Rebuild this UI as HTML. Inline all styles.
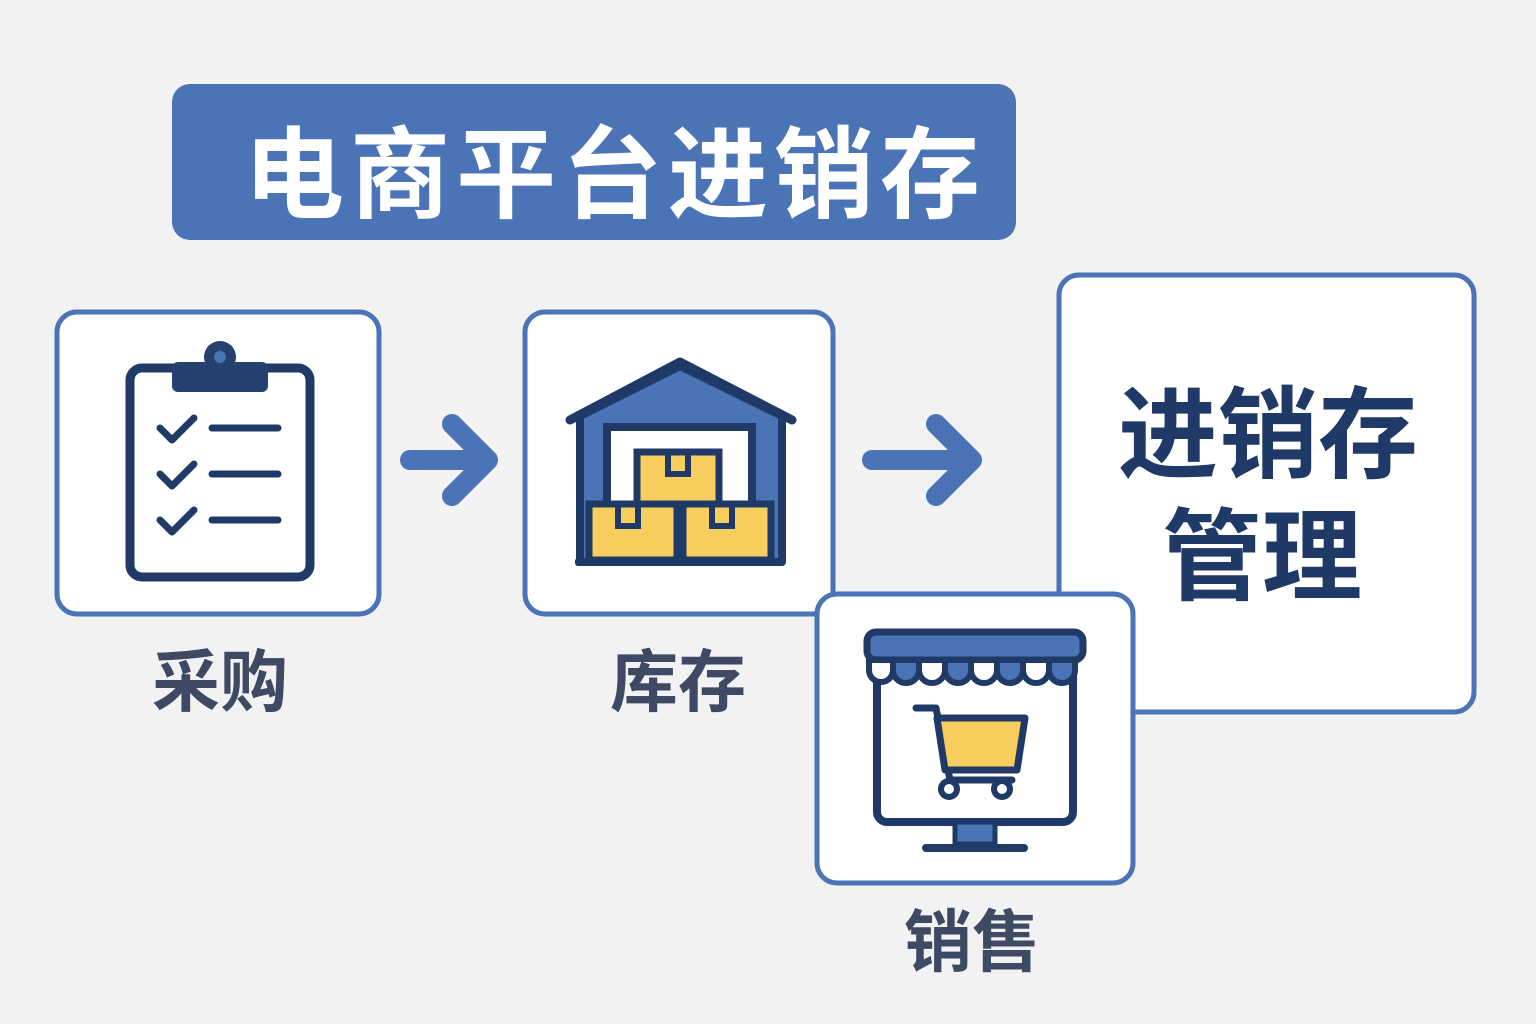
<!DOCTYPE html>
<html><head><meta charset="utf-8"><style>
body{margin:0;background:#f2f2f2;}
svg{display:block}
text{font-family:"Liberation Sans","Noto Sans CJK SC",sans-serif;font-weight:bold}
</style></head><body>
<svg width="1536" height="1024" viewBox="0 0 1536 1024">
<rect width="1536" height="1024" fill="#f2f2f2"/>
<rect x="172" y="84" width="844" height="156" rx="18" fill="#4a74b6"/>
<text x="615" y="210" font-size="100" fill="#fff" text-anchor="middle" letter-spacing="6">电商平台进销存</text>

<g fill="#fff" stroke="#4a74b6" stroke-width="5">
<rect x="57" y="312" width="322" height="302" rx="20"/>
<rect x="525" y="312" width="308" height="302" rx="20"/>
<rect x="1059" y="275" width="415" height="437" rx="20"/>
<rect x="817" y="594" width="316" height="289" rx="20"/>
</g>

<!-- clipboard -->
<g stroke="#1f3a66" stroke-linecap="round" stroke-linejoin="round" fill="none">
<rect x="130" y="368" width="180" height="209" rx="12" stroke-width="9"/>
<path d="M160 428l12 12 22-22M160 474l12 12 22-22M160 520l12 12 22-22" stroke-width="7"/>
<path d="M212 428h66M212 474h66M212 520h66" stroke-width="7"/>
</g>
<rect x="172" y="362" width="96" height="30" rx="6" fill="#25426f"/>
<circle cx="220" cy="357" r="16" fill="#25426f"/>
<circle cx="220" cy="357" r="6" fill="#4a74b6"/>

<!-- arrows -->
<g stroke="#4a74b6" stroke-width="20" stroke-linecap="round" stroke-linejoin="round" fill="none">
<path d="M410 460h78M452 424l36 36-36 36"/>
<path d="M872 460h100M936 424l36 36-36 36"/>
</g>

<!-- warehouse -->
<path d="M580 416L680 366 782 416V562H580Z" fill="#4a74b6" stroke="#1f3a66" stroke-width="8" stroke-linejoin="round"/>
<path d="M570 420L680 362 792 420" fill="none" stroke="#1f3a66" stroke-width="9" stroke-linecap="round" stroke-linejoin="round"/>
<rect x="607" y="427" width="145" height="135" fill="#fff" stroke="#1f3a66" stroke-width="8"/>
<g fill="#f7cd5e" stroke="#1f3a66" stroke-width="7">
<rect x="637" y="452" width="82" height="56"/>
<rect x="589" y="504" width="88" height="56"/>
<rect x="683" y="504" width="88" height="56"/>
</g>
<g fill="none" stroke="#1f3a66" stroke-width="6">
<path d="M668 452v22h20v-22M618 504v22h20v-22M712 504v22h20v-22"/>
</g>
<rect x="575" y="558" width="210" height="8" rx="3" fill="#1f3a66"/>

<!-- shop -->
<rect x="877" y="652" width="196" height="170" rx="10" fill="#fff" stroke="#1f3a66" stroke-width="8"/>
<rect x="867" y="632" width="216" height="28" rx="9" fill="#4a74b6" stroke="#1f3a66" stroke-width="7"/>
<g stroke="#1f3a66" stroke-width="6">
<path d="M869 660v10a12 12 0 0 0 24 0v-10z" fill="#fff"/>
<path d="M893 660v10a13 13 0 0 0 26 0v-10z" fill="#4a74b6"/>
<path d="M919 660v10a13 13 0 0 0 26 0v-10z" fill="#fff"/>
<path d="M945 660v10a13 13 0 0 0 26 0v-10z" fill="#4a74b6"/>
<path d="M971 660v10a13 13 0 0 0 26 0v-10z" fill="#fff"/>
<path d="M997 660v10a13 13 0 0 0 26 0v-10z" fill="#4a74b6"/>
<path d="M1023 660v10a13 13 0 0 0 26 0v-10z" fill="#fff"/>
<path d="M1049 660v10a13 13 0 0 0 26 0v-10z" fill="#4a74b6"/>
</g>
<rect x="955" y="822" width="40" height="22" fill="#4a74b6" stroke="#1f3a66" stroke-width="5"/>
<path d="M926 848h98" stroke="#1f3a66" stroke-width="8" stroke-linecap="round"/>
<path d="M916 708h20l14 72h62" fill="none" stroke="#1f3a66" stroke-width="7" stroke-linecap="round" stroke-linejoin="round"/>
<path d="M937 718h88l-8 52h-72z" fill="#f7cd5e" stroke="#1f3a66" stroke-width="7" stroke-linejoin="round"/>
<circle cx="949" cy="789" r="8" fill="#fff" stroke="#1f3a66" stroke-width="6"/>
<circle cx="1002" cy="789" r="8" fill="#fff" stroke="#1f3a66" stroke-width="6"/>

<!-- labels -->
<g fill="#3e4a63" font-size="68" text-anchor="middle">
<text x="220" y="706">采购</text>
<text x="678" y="706">库存</text>
<text x="972" y="966">销售</text>
</g>
<g fill="#1f3a66" font-size="100" text-anchor="middle">
<text x="1268" y="470">进销存</text>
<text x="1262" y="592">管理</text>
</g>
</svg>
</body></html>
